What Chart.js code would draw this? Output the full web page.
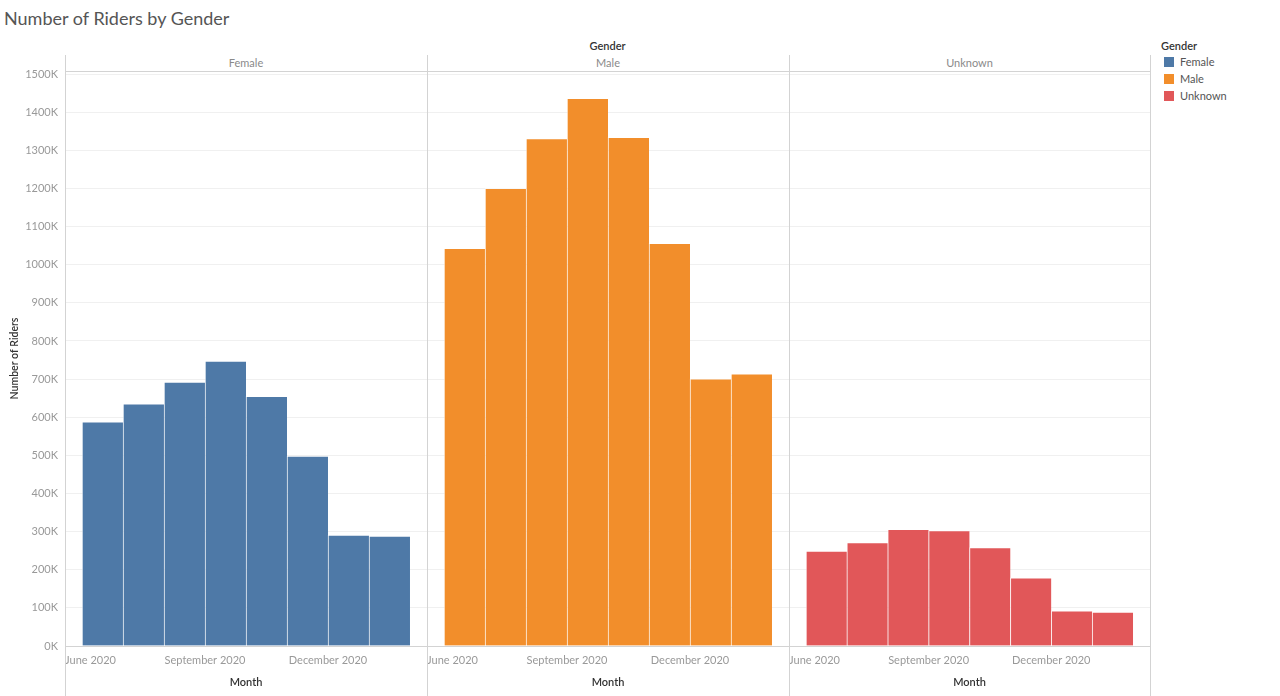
<!DOCTYPE html>
<html>
<head>
<meta charset="utf-8">
<script src="https://cdn.jsdelivr.net/npm/chart.js@4.4.0/dist/chart.umd.min.js"></script>
<style>
  html, body { margin: 0; padding: 0; background: #fff; }
  #root { position: relative; width: 1280px; height: 696px; overflow: hidden; font-family: Lato, "Open Sans", sans-serif; }
  #title { position: absolute; left: 4px; top: 9px; font-size: 18px; line-height: 18px; color: #555; white-space: nowrap; }
  .txt { position: absolute; font-size: 11px; line-height: 11px; white-space: nowrap; }
  .hdr { color: #333; font-weight: 600; }
  .phdr { color: #8a8a8a; text-align: center; }
  .vline { position: absolute; top: 55px; bottom: 0; width: 1px; background: #d3d3d3; }
  .hline { position: absolute; top: 71px; left: 65px; width: 1086px; height: 1px; background: #d3d3d3; }
  canvas { position: absolute; top: 0; }
  #legend { position: absolute; left: 1161px; top: 40px; font-size: 11px; }
  #legend .lt { color: #333; font-weight: 600; height: 13px; line-height: 11px; }
  #legend .li { height: 17px; line-height: 11px; color: #555; display: flex; align-items: center; padding-left: 3px; }
  #legend .sw { width: 10px; height: 10px; margin-right: 6px; display: inline-block; }
</style>
</head>
<body>
<div id="root">
  <div id="title">Number of Riders by Gender</div>
  <div class="txt hdr" style="left:65px;width:1085px;text-align:center;top:40px;">Gender</div>
  <div id="phdrs"></div>
  <canvas id="c0" width="427" height="696" style="left:0px"></canvas>
  <canvas id="c1" width="362" height="696" style="left:427px"></canvas>
  <canvas id="c2" width="361" height="696" style="left:789px"></canvas>
  <div class="vline" style="left:65px"></div>
  <div class="vline" style="left:427px"></div>
  <div class="vline" style="left:789px"></div>
  <div class="vline" style="left:1150px"></div>
  <div class="hline"></div>
  <div id="legend"></div>
</div>
<script>
// ---- data ----
const months = ['June 2020', 'July 2020', 'August 2020', 'September 2020', 'October 2020', 'November 2020', 'December 2020', 'January 2021'];
const genders = ['Female', 'Male', 'Unknown'];
const femaleRiders  = [588000, 635000, 692000, 747000, 655000, 498000, 291000, 288000];
const maleRiders    = [1043000, 1200000, 1331000, 1436000, 1334000, 1056000, 701000, 714000];
const unknownRiders = [249000, 271000, 306000, 303000, 258000, 179000, 92000, 89000];
const xTickLabels = ['June 2020', 'September 2020', 'December 2020'];
const genderColors = ['#4e79a7', '#f28e2b', '#e15759'];

// ---- style constants ----
const Y_MAX = 1508000;
const Y_STEP = 100000;
const PAD = 0.415;           // panel inner padding, in month units
const FONT = 'Lato, "Open Sans", sans-serif';
const panels = [
  { id: 'c0', left: 65,  width: 362, values: femaleRiders,  showY: true },
  { id: 'c1', left: 427, width: 362, values: maleRiders,    showY: false },
  { id: 'c2', left: 789, width: 361, values: unknownRiders, showY: false }
];

// panel headers
const ph = document.getElementById('phdrs');
panels.forEach((p, k) => {
  const d = document.createElement('div');
  d.className = 'txt phdr';
  d.style.left = p.left + 'px'; d.style.width = p.width + 'px'; d.style.top = '57px';
  d.textContent = genders[k];
  ph.appendChild(d);
});
// legend
const lg = document.getElementById('legend');
lg.innerHTML = '<div class="lt">Gender</div>' + genders.map((g, k) =>
  `<div class="li"><span class="sw" style="background:${genderColors[k]}"></span>${g}</div>`).join('');

const tickIdx = xTickLabels.map(l => months.indexOf(l));

panels.forEach((p, k) => {
  new Chart(document.getElementById(p.id), {
    type: 'bar',
    data: {
      datasets: [{
        label: genders[k],
        data: months.map((m, i) => ({ x: i, y: p.values[i] })),
        backgroundColor: genderColors[k],
        borderColor: 'rgba(255,255,255,0.55)',
        borderWidth: { top: 1, left: 1, right: 0, bottom: 0 },
        borderSkipped: false,
        barPercentage: 1,
        categoryPercentage: 1
      }]
    },
    options: {
      responsive: false,
      animation: false,
      layout: { padding: { top: 71, left: 0, right: 0, bottom: 0 } },
      plugins: { legend: { display: false }, tooltip: { enabled: false } },
      scales: {
        x: {
          type: 'linear',
          offset: false,
          min: -0.5 - PAD,
          max: months.length - 0.5 + PAD,
          grid: { display: false, offset: false, drawTicks: false },
          border: { display: true, color: '#d3d3d3', width: 1 },
          afterBuildTicks: s => {
            s.ticks = tickIdx.map((i, n) => ({ value: n === 0 ? s.min : i - 0.5 }))
              .concat([{ value: s.max }]);
          },
          ticks: {
            autoSkip: false, maxRotation: 0, minRotation: 0, align: 'inner',
            color: '#999', font: { family: FONT, size: 11 }, padding: 8,
            callback: (v, i) => xTickLabels[i] ?? ''
          },
          title: { display: true, text: 'Month', color: '#333', font: { family: FONT, size: 11, weight: '600' }, padding: { top: 0, bottom: 7 } },
          afterFit: s => { s.height = 50; s.paddingLeft = 0; s.paddingRight = 0; }
        },
        y: {
          beginAtZero: true, max: Y_MAX,
          grid: { color: '#f0f0f0', drawTicks: false },
          border: { display: false },
          ticks: {
            display: p.showY, stepSize: Y_STEP, includeBounds: false, maxTicksLimit: 30,
            color: '#999', font: { family: FONT, size: 11 }, padding: 7,
            callback: v => (v / 1000) + 'K'
          },
          title: { display: p.showY, text: 'Number of Riders', color: '#333', font: { family: FONT, size: 10.5, weight: '600' }, padding: { top: 8, bottom: 0 } },
          afterFit: s => { s.width = p.showY ? 65 : 0; s.paddingTop = 0; s.paddingBottom = 0; }
        }
      }
    }
  });
});
</script>
</body>
</html>
